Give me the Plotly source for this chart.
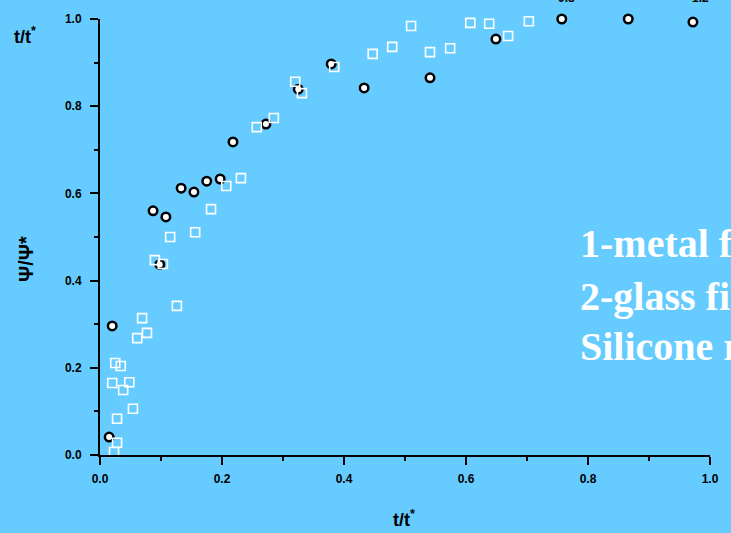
import plotly.graph_objects as go

# Series 1: metal filler (black-ringed circles)
metal_x = [0.015, 0.020, 0.087, 0.098, 0.108, 0.133, 0.154, 0.175, 0.197, 0.218,
           0.272, 0.325, 0.379, 0.433, 0.541, 0.649, 0.757, 0.866, 0.972]
metal_y = [0.041, 0.296, 0.560, 0.437, 0.546, 0.612, 0.603, 0.628, 0.633, 0.718,
           0.759, 0.839, 0.897, 0.842, 0.865, 0.954, 1.000, 1.000, 0.993]

# Series 2: glass filler (open white squares)
glass_x = [0.023, 0.028, 0.028, 0.054, 0.020, 0.048, 0.038, 0.025, 0.034, 0.061,
           0.077, 0.069, 0.126, 0.090, 0.103, 0.115, 0.156, 0.182, 0.207, 0.231,
           0.257, 0.285, 0.320, 0.331, 0.384, 0.447, 0.479, 0.510, 0.541, 0.574,
           0.607, 0.638, 0.669, 0.703]
glass_y = [0.007, 0.028, 0.083, 0.106, 0.165, 0.167, 0.149, 0.211, 0.204, 0.268,
           0.280, 0.314, 0.342, 0.447, 0.438, 0.500, 0.511, 0.564, 0.617, 0.635,
           0.752, 0.773, 0.856, 0.830, 0.890, 0.920, 0.936, 0.984, 0.924, 0.933,
           0.991, 0.989, 0.961, 0.995]

tick_vals = [0.0, 0.2, 0.4, 0.6, 0.8, 1.0]
tick_text = ["0.0", "0.2", "0.4", "0.6", "0.8", "1.0"]

legend_lines = ["1-metal filler", "2-glass fiber", "Silicone rubber"]

BG = "#66CCFF"

fig = go.Figure()
fig.add_trace(go.Scatter(
    x=metal_x, y=metal_y, mode="markers", cliponaxis=False,
    marker=dict(symbol="circle", size=8.5, color="white",
                line=dict(color="black", width=2.5)),
    showlegend=False))
fig.add_trace(go.Scatter(
    x=glass_x, y=glass_y, mode="markers", cliponaxis=False,
    marker=dict(symbol="square-open", size=9, color="white",
                line=dict(color="white", width=1.6)),
    showlegend=False))

axis_font = dict(family="Liberation Sans", size=12, color="black", weight="bold")
common = dict(
    range=[0, 1], tickvals=tick_vals, ticktext=tick_text,
    showgrid=False, zeroline=False, showline=True, linecolor="black", linewidth=2,
    ticks="outside", ticklen=8, tickwidth=2, tickcolor="black", tickfont=axis_font,
    minor=dict(dtick=0.1, ticks="outside", ticklen=4, tickwidth=2, tickcolor="black"),
)
fig.update_xaxes(**common, ticklabelstandoff=4)
fig.update_yaxes(**common, ticklabelstandoff=6)


def px_x(px):
    return (px - 100) / 610


def px_y(py):
    return (455 - py) / 436


ann = []
title_font = dict(family="Liberation Sans", size=18, color="black", weight="bold")
ann.append(dict(text="t/t<sup>*</sup>", xref="paper", yref="paper",
                x=px_x(404), y=px_y(518), xanchor="center", yanchor="middle",
                showarrow=False, font=title_font))
ann.append(dict(text="t/t<sup>*</sup>", xref="paper", yref="paper",
                x=px_x(25), y=px_y(35), xanchor="center", yanchor="middle",
                showarrow=False, font=title_font))
ann.append(dict(text="Ψ/Ψ*", xref="paper", yref="paper", textangle=-90,
                x=px_x(26), y=px_y(259), xanchor="center", yanchor="middle",
                showarrow=False,
                font=dict(family="Liberation Sans", size=20, color="black", weight="bold")))
# partially visible labels along the top edge
for px, label in [(566, "0.8"), (700, "1.2")]:
    ann.append(dict(text=label, xref="paper", yref="paper",
                    x=px_x(px), y=px_y(7), xanchor="center", yanchor="bottom",
                    showarrow=False, font=axis_font))
# series legend text
for py, line in zip([244, 296, 347], legend_lines):
    ann.append(dict(text=line, xref="paper", yref="paper",
                    x=px_x(578), y=px_y(py),
                    xanchor="left", yanchor="middle", showarrow=False,
                    font=dict(family="Liberation Serif", size=40,
                              color="white", weight="bold")))

fig.update_layout(
    width=731, height=533,
    margin=dict(l=100, r=21, t=19, b=78),
    paper_bgcolor=BG, plot_bgcolor=BG,
    annotations=ann,
)

fig.write_html("out.html")
